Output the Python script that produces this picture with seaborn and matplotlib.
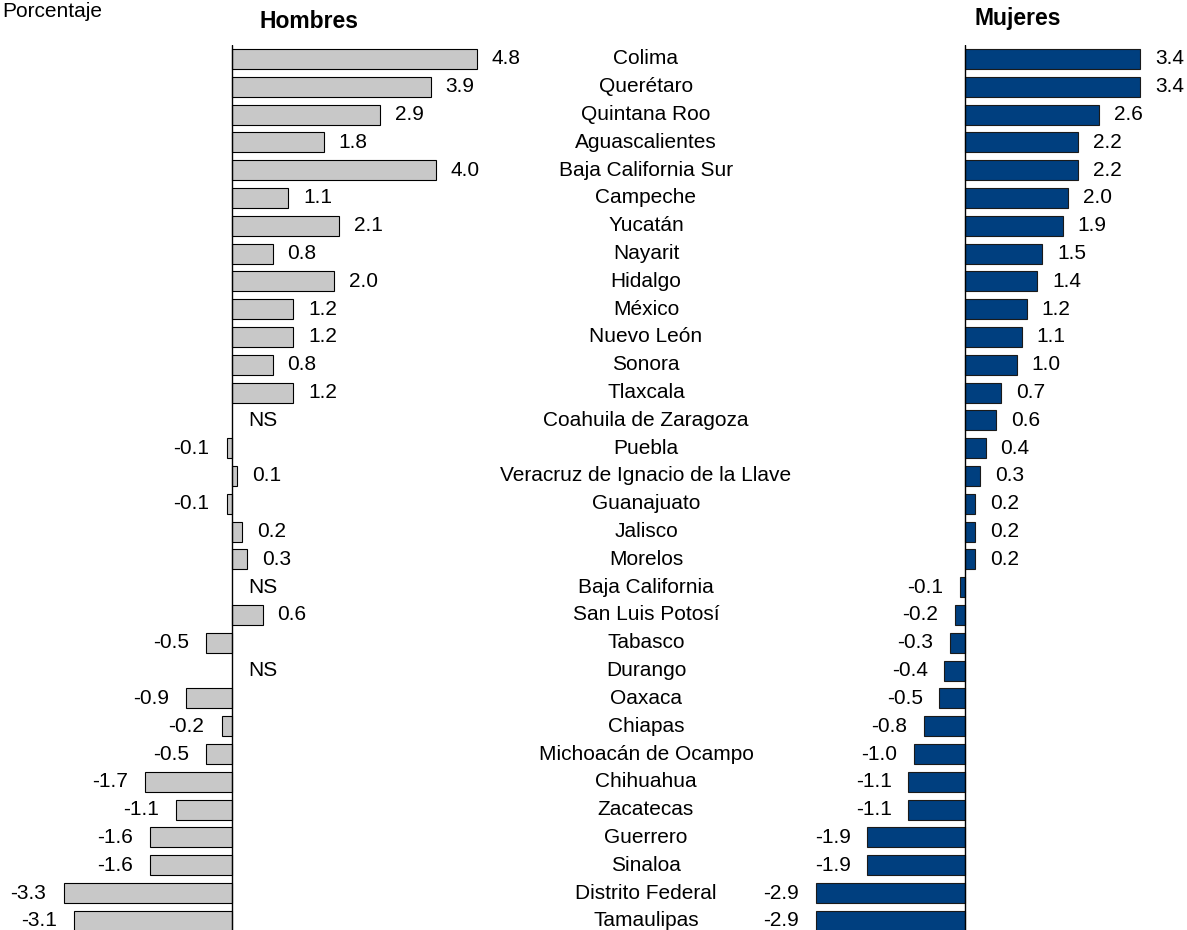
import numpy as np
import pandas as pd
import matplotlib.pyplot as plt
import matplotlib.transforms as mtransforms
import seaborn as sns

sns.set_style('white')
plt.rcParams['font.family'] = ['Liberation Sans', 'DejaVu Sans']
plt.rcParams['text.color'] = 'black'

# Data: change in percentage points by state
estados = ['Colima', 'Querétaro', 'Quintana Roo', 'Aguascalientes', 'Baja California Sur',
           'Campeche', 'Yucatán', 'Nayarit', 'Hidalgo', 'México', 'Nuevo León', 'Sonora',
           'Tlaxcala', 'Coahuila de Zaragoza', 'Puebla', 'Veracruz de Ignacio de la Llave',
           'Guanajuato', 'Jalisco', 'Morelos', 'Baja California', 'San Luis Potosí', 'Tabasco',
           'Durango', 'Oaxaca', 'Chiapas', 'Michoacán de Ocampo', 'Chihuahua', 'Zacatecas',
           'Guerrero', 'Sinaloa', 'Distrito Federal', 'Tamaulipas']
hombres = [4.8, 3.9, 2.9, 1.8, 4.0, 1.1, 2.1, 0.8, 2.0, 1.2, 1.2, 0.8, 1.2, np.nan, -0.1, 0.1,
           -0.1, 0.2, 0.3, np.nan, 0.6, -0.5, np.nan, -0.9, -0.2, -0.5, -1.7, -1.1, -1.6, -1.6,
           -3.3, -3.1]
mujeres = [3.4, 3.4, 2.6, 2.2, 2.2, 2.0, 1.9, 1.5, 1.4, 1.2, 1.1, 1.0, 0.7, 0.6, 0.4, 0.3,
           0.2, 0.2, 0.2, -0.1, -0.2, -0.3, -0.4, -0.5, -0.8, -1.0, -1.1, -1.1, -1.9, -1.9,
           -2.9, -2.9]

df = pd.DataFrame({'estado': estados, 'hombres': hombres, 'mujeres': mujeres})

W, H = 1187, 930
fig = plt.figure(figsize=(W / 100, H / 100), dpi=100)

top_px, bot_px = 45, 930
ax_h = fig.add_axes([0, 0, 500 / W, (bot_px - top_px) / H])
ax_m = fig.add_axes([700 / W, 0, (W - 700) / W, (bot_px - top_px) / H])
ax_m.patch.set_visible(False)

scale = 51.0
sns.barplot(data=df, x='hombres', y='estado', orient='h', color='#C8C8C8', saturation=1,
            width=0.72, edgecolor='black', linewidth=0.8, ax=ax_h)
sns.barplot(data=df, x='mujeres', y='estado', orient='h', color='#003F7F', saturation=1,
            width=0.72, edgecolor='#1a1a1a', linewidth=0.8, ax=ax_m)

ax_h.set_xlim(-232 / scale, (500 - 232) / scale)
ax_m.set_xlim(-(965 - 700) / 51.5, (W - 965) / 51.5)

for ax in (ax_h, ax_m):
    ax.set_ylim(31.33, -0.5)
    ax.axvline(0, color='black', lw=1)
    ax.set_xlabel('')
    ax.set_ylabel('')
    ax.set_xticks([])
    ax.set_yticks([])
    sns.despine(ax=ax, left=True, bottom=True)

fs = 15
for i, v in enumerate(hombres):
    if np.isnan(v):
        ax_h.text(0.31, i, 'NS', ha='left', va='center', fontsize=fs)
    elif v >= 0:
        ax_h.text(v + 0.29, i, f'{v:.1f}', ha='left', va='center', fontsize=fs)
    else:
        ax_h.text(v - 0.34, i, f'{v:.1f}', ha='right', va='center', fontsize=fs)

for i, v in enumerate(mujeres):
    if v >= 0:
        ax_m.text(v + 0.29, i, f'{v:.1f}', ha='left', va='center', fontsize=fs)
    else:
        ax_m.text(v - 0.32, i, f'{v:.1f}', ha='right', va='center', fontsize=fs)

# state names in the middle column
trans = mtransforms.blended_transform_factory(fig.transFigure, ax_h.transData)
for i, name in enumerate(estados):
    ax_h.text(646 / W, i, name, ha='center', va='center', fontsize=fs, transform=trans,
              clip_on=False)

fig.text(309.5 / W, 1 - 22 / H, 'Hombres', ha='center', va='center', fontsize=16.5,
         fontweight='bold')
fig.text(1018 / W, 1 - 18 / H, 'Mujeres', ha='center', va='center', fontsize=16.5,
         fontweight='bold')
fig.text(2 / W, 1 - 17 / H, 'Porcentaje', ha='left', va='baseline', fontsize=15)

plt.savefig('out.png', dpi=100)
